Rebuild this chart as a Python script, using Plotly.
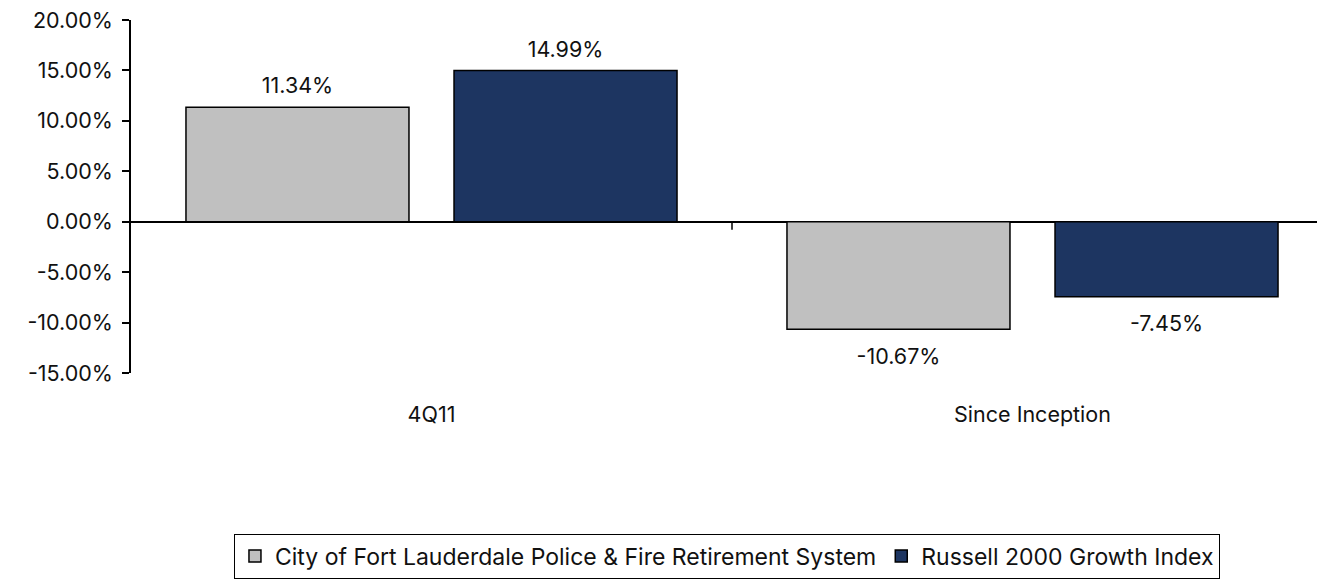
import plotly.graph_objects as go

# Period labels and returns (%)
categories = ["4Q11", "Since Inception"]
fund_name = "City of Fort Lauderdale Police & Fire Retirement System"
index_name = "Russell 2000 Growth Index"
fund_returns = [11.34, -10.67]
index_returns = [14.99, -7.45]

y_ticks = [-15, -10, -5, 0, 5, 10, 15, 20]
y_tick_labels = [f"{v:.2f}%" for v in y_ticks]

FONT = "Inter"
FS = 21.5
GREY = "#C0C0C0"
NAVY = "#1D3561"

fig = go.Figure()

for name, vals, color in [(fund_name, fund_returns, GREY), (index_name, index_returns, NAVY)]:
    fig.add_trace(go.Bar(
        x=categories, y=vals, name=name, offsetgroup=name,
        marker=dict(color=color, line=dict(color="#000000", width=1.5)),
    ))

# value labels placed through grouped scatter points so they line up with the bars;
# the transparent markers keep the text clear of the bar ends
for name, vals in [(fund_name, fund_returns), (index_name, index_returns)]:
    fig.add_trace(go.Scatter(
        x=categories, y=vals, offsetgroup=name, mode="markers+text",
        marker=dict(size=[12 if v >= 0 else 28 for v in vals],
                    color="rgba(0,0,0,0)", line=dict(width=0, color="rgba(0,0,0,0)")),
        text=[f"{v:.2f}%" for v in vals],
        textposition=["top center" if v >= 0 else "bottom center" for v in vals],
        textfont=dict(family=FONT, size=FS, color="#111111"),
        showlegend=False, hoverinfo="skip", cliponaxis=False,
    ))

# small divider tick between the two periods
fig.add_shape(type="line", xref="x", yref="y", x0=0.5, x1=0.5, y0=0, y1=-0.8,
              line=dict(color="#000000", width=1.5))

fig.update_layout(
    width=1317, height=579,
    margin=dict(l=131, r=0, t=20, b=200),
    paper_bgcolor="white", plot_bgcolor="white",
    barmode="group", bargap=0.108, bargroupgap=0.168,
    scattermode="group", scattergap=0.108,
    font=dict(family=FONT, size=FS, color="#111111"),
    xaxis=dict(
        type="category", range=[-0.5, -0.5 + 1186 / 601],
        showline=False, showgrid=False, zeroline=False,
        ticks="", ticklabelstandoff=26,
    ),
    yaxis=dict(
        range=[-15, 20], tickvals=y_ticks, ticktext=y_tick_labels,
        showline=True, linecolor="#000000", linewidth=1.5,
        ticks="outside", ticklen=7, tickwidth=1.5, tickcolor="#000000",
        showgrid=False, zeroline=True, zerolinecolor="#000000", zerolinewidth=2,
        ticklabelstandoff=5,
    ),
    legend=dict(
        orientation="h", x=0.5025, xanchor="center", y=-0.455, yanchor="top",
        bordercolor="#000000", borderwidth=1, bgcolor="white",
        font=dict(family=FONT, size=23, color="#111111"),
    ),
)

fig.write_html("out.html")
